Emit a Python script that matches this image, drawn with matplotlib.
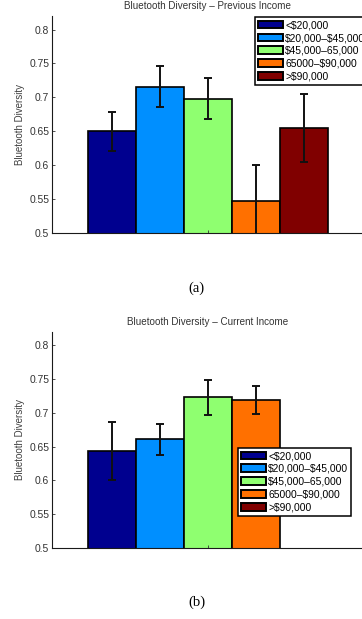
import matplotlib.pyplot as plt

plt.rcParams.update({
    "font.family": ["Liberation Sans", "DejaVu Sans"],
    "axes.linewidth": 0.8,
    "xtick.direction": "in",
    "ytick.direction": "in",
})

# --- data ---
groups = ["<\\$20,000", "\\$20,000\u2013\\$45,000", "\\$45,000\u201365,000",
          "65000\u2013\\$90,000", ">\\$90,000"]
colors = ["#00008F", "#008FFF", "#8FFF70", "#FF7000", "#800000"]

prev_mean = [0.650, 0.716, 0.698, 0.547, 0.655]
prev_err = [0.029, 0.030, 0.030, 0.053, 0.050]

curr_mean = [0.644, 0.661, 0.723, 0.719, None]
curr_err = [0.043, 0.023, 0.026, 0.021, None]

yticks = [0.5, 0.55, 0.6, 0.65, 0.7, 0.75, 0.8]
ytick_labels = ["0.5", "0.55", "0.6", "0.65", "0.7", "0.75", "0.8"]

fig = plt.figure(figsize=(3.62, 6.19), dpi=100)
ax_top = fig.add_axes([0.1436, 0.6236, 0.8619, 0.3506])
ax_bot = fig.add_axes([0.1436, 0.1147, 0.8619, 0.3490])

width = 0.154


def draw(ax, means, errs, title, legend_anchor):
    for i, (m, e, c, lab) in enumerate(zip(means, errs, colors, groups)):
        x = 1 + (i - 2) * width
        if m is None:
            # group present in legend only
            ax.bar([x], [0], width=width, color=c, edgecolor="black",
                   linewidth=1.2, label=lab)
        else:
            ax.bar([x], [m], width=width, color=c, edgecolor="black",
                   linewidth=1.2, label=lab)
            ax.errorbar([x], [m], yerr=[e], fmt="none", ecolor="#111111",
                        elinewidth=1.4, capsize=2.6, capthick=1.4)

    ax.set_xlim(0.5, 1.5)
    ax.set_ylim(0.5, 0.82)
    ax.set_xticks([1])
    ax.set_xticklabels([""])
    ax.set_yticks(yticks)
    ax.set_yticklabels(ytick_labels)
    ax.tick_params(axis="both", labelsize=7.4, length=2, width=0.6,
                   colors="0.2", pad=2)
    ax.spines["top"].set_visible(False)
    ax.spines["right"].set_visible(False)
    for s in ("left", "bottom"):
        ax.spines[s].set_color("0.1")
    ax.set_ylabel("Bluetooth Diversity", fontsize=7.0, color="0.25", labelpad=3)
    ax.set_title(title, fontsize=7.1, color="0.2", pad=5)

    leg = ax.legend(loc="upper left", bbox_to_anchor=legend_anchor,
                    fontsize=7.4, handlelength=2.45, handleheight=0.8,
                    handletextpad=0.2, labelspacing=0.28, borderpad=0.3,
                    borderaxespad=0, fancybox=False, framealpha=1,
                    edgecolor="black")
    leg.get_frame().set_linewidth(1.1)
    for p in leg.get_patches():
        p.set_edgecolor("black")
        p.set_linewidth(1.4)


draw(ax_top, prev_mean, prev_err, "Bluetooth Diversity \u2013 Previous Income",
     (0.651, 0.995))
draw(ax_bot, curr_mean, curr_err, "Bluetooth Diversity \u2013 Current Income",
     (0.596, 0.463))

fig.text(0.544, 0.535, "(a)", ha="center", va="center",
         family=["Liberation Serif", "DejaVu Serif"], fontsize=10.5)
fig.text(0.544, 0.0275, "(b)", ha="center", va="center",
         family=["Liberation Serif", "DejaVu Serif"], fontsize=10.5)

fig.savefig("out.png", dpi=100)
plt.close(fig)
